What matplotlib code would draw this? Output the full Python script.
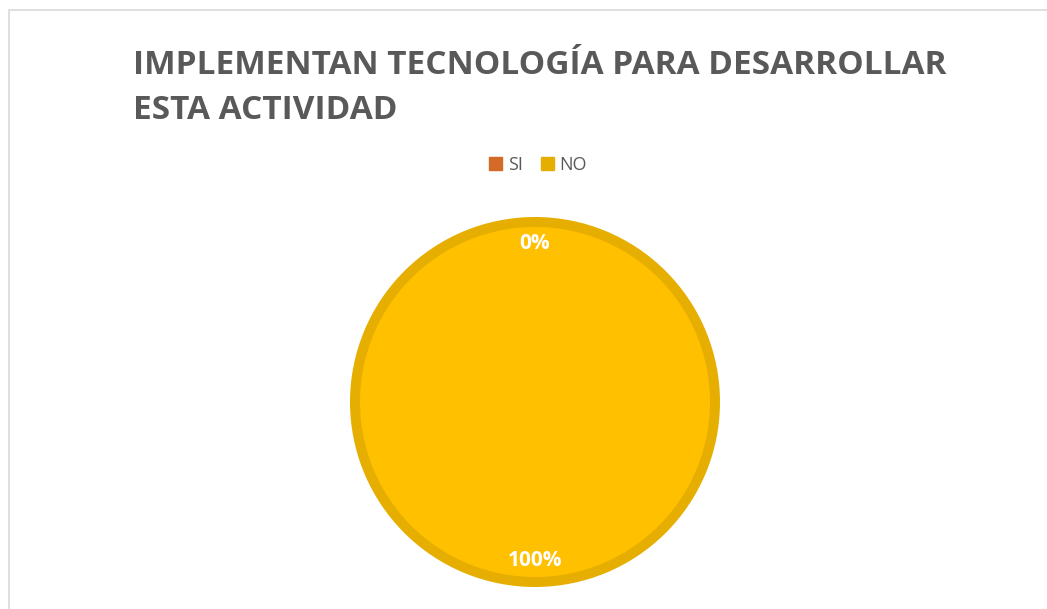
import matplotlib
matplotlib.use('Agg')
import matplotlib.pyplot as plt
from matplotlib.patches import Patch, Rectangle

categorias = ['SI', 'NO']
valores = [0, 100]
colores = ['#D46A28', '#FFC000']
colores_borde = ['#D46A28', '#E6AE00']
titulo = ['IMPLEMENTAN TECNOLOGÍA PARA DESARROLLAR', 'ESTA ACTIVIDAD']

W, H = 1047, 609
fig = plt.figure(figsize=(W / 100, H / 100), dpi=100)
fig.patch.set_facecolor('white')

# marco del gráfico
fig.add_artist(Rectangle((9 / W, -0.05), 1.1, 1 - 10 / H + 0.05, transform=fig.transFigure,
                         fill=False, edgecolor='#D9D9D9', linewidth=1.2))

# titulo en dos lineas
fig.text(133 / W, 1 - 74 / H, titulo[0], fontsize=24, fontweight='bold', color='#595959',
         family='Open Sans', va='baseline', ha='left')
fig.text(133 / W, 1 - 119 / H, titulo[1], fontsize=24, fontweight='bold', color='#595959',
         family='Open Sans', va='baseline', ha='left')

# pie: centro en (535, 402) px, 1 unidad = 200 px
cx, cy = 535, H - 402
ax = fig.add_axes([(cx - 200) / W, (cy - 200) / H, 400 / W, 400 / H])

wedges, textos, autotextos = ax.pie(
    valores, colors=colores, radius=0.9, startangle=90, counterclock=False,
    autopct='%1.0f%%', pctdistance=0.88,
    wedgeprops=dict(edgecolor=colores_borde[1], linewidth=7.2),
    textprops=dict(color='white', fontsize=15, fontweight='bold', family='Open Sans'))
wedges[0].set_linewidth(0)
ax.set_xlim(-1, 1)
ax.set_ylim(-1, 1)
ax.set_aspect('equal')
ax.axis('off')

handles = [Patch(facecolor=c, edgecolor=c) for c in colores_borde]
fig.legend(handles, categorias, loc='center', bbox_to_anchor=(538 / W, 1 - 165 / H), ncol=2,
           frameon=False, handlelength=0.75, handleheight=0.75, handletextpad=0.3,
           columnspacing=1.0, prop=dict(family='Open Sans', size=13), labelcolor='#595959')

fig.savefig('out.png', dpi=100)
